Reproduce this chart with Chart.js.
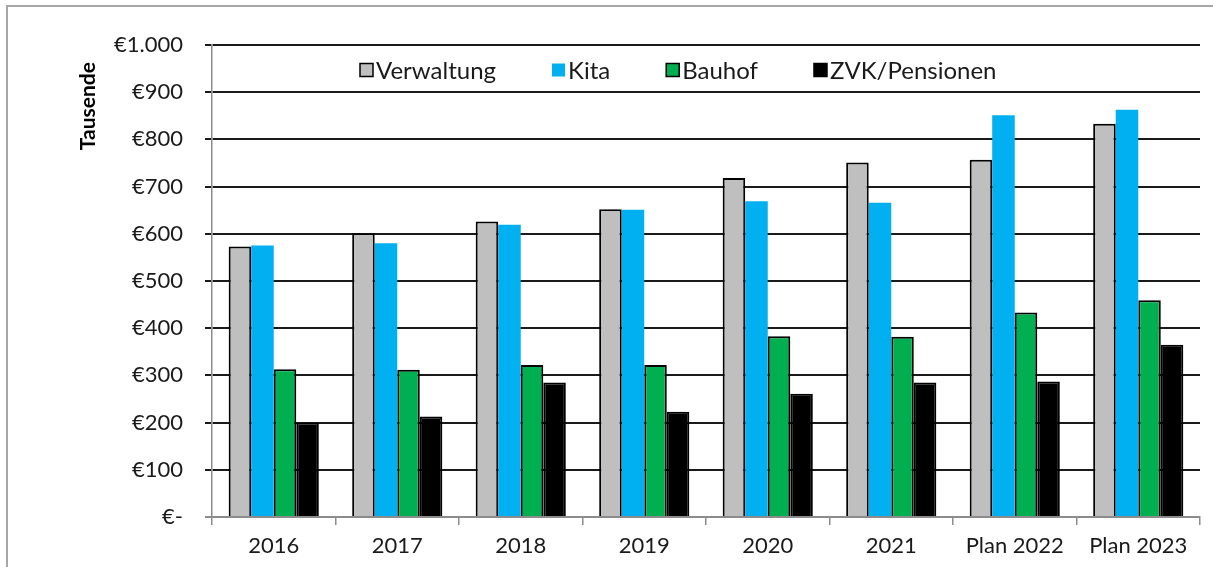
<!DOCTYPE html>
<html>
<head>
<meta charset="utf-8">
<script src="https://cdn.jsdelivr.net/npm/chart.js@4/dist/chart.umd.min.js"></script>
<style>
    body { margin: 0; background: #fff; }
    #frame { position: absolute; left: 6px; top: 5px; width: 1300px; height: 700px; border: 2px solid #a6a6a6; }
    #wrap { position: absolute; left: 0; top: 0; width: 1213px; height: 567px; }
</style>
</head>
<body>
<div id="frame"></div>
<div id="wrap"><canvas id="chart"></canvas></div>
<script>
const categories = ['2016', '2017', '2018', '2019', '2020', '2021', 'Plan 2022', 'Plan 2023'];
const verwaltung = [573, 601, 626, 652, 718, 751, 757, 833];
const kita = [575, 580, 619, 651, 669, 666, 851, 863];
const bauhof = [313, 312, 322, 322, 383, 382, 433, 459];
const zvk = [200, 213, 285, 223, 261, 285, 287, 365];
const yTickLabels = ['€-', '€100', '€200', '€300', '€400', '€500', '€600', '€700', '€800', '€900', '€1.000'];
const yTitle = 'Tausende';

const fontFamily = 'Lato, "Open Sans", sans-serif';

// Legende innerhalb der Zeichenfläche
const innerLegend = {
    id: 'innerLegend',
    afterDatasetsDraw(chart) {
        const ctx = chart.ctx;
        const area = chart.chartArea;
        let x = area.left + 148;
        const y = area.top + 25;
        const box = 13;
        ctx.save();
        ctx.font = '24px ' + fontFamily;
        ctx.textBaseline = 'middle';
        chart.data.datasets.forEach(ds => {
            ctx.fillStyle = ds.backgroundColor;
            ctx.fillRect(x, y - box / 2, box, box);
            if (ds.borderWidth > 0) {
                ctx.lineWidth = 1.5;
                ctx.strokeStyle = '#000';
                ctx.strokeRect(x, y - box / 2, box, box);
            }
            ctx.fillStyle = '#1a1a1a';
            ctx.fillText(ds.label, x + box + 3, y + 1);
            x += box + 3 + ctx.measureText(ds.label).width + 56;
        });
        ctx.restore();
    }
};

// Achsentitel oben links
const axisTitle = {
    id: 'axisTitle',
    afterDraw(chart) {
        const ctx = chart.ctx;
        const area = chart.chartArea;
        ctx.save();
        ctx.translate(88, area.top + 17);
        ctx.rotate(-Math.PI / 2);
        ctx.font = 'bold 21px ' + fontFamily;
        ctx.fillStyle = '#000';
        ctx.textAlign = 'right';
        ctx.textBaseline = 'middle';
        ctx.fillText(yTitle, 0, 0);
        ctx.restore();
    }
};

new Chart(document.getElementById('chart'), {
    type: 'bar',
    data: {
        labels: categories,
        datasets: [
            { label: 'Verwaltung', data: verwaltung, backgroundColor: '#bfbfbf', borderColor: '#000', borderWidth: 2 },
            { label: 'Kita', data: kita, backgroundColor: '#00b0f0', borderWidth: 0 },
            { label: 'Bauhof', data: bauhof, backgroundColor: '#00b050', borderColor: '#000', borderWidth: 2 },
            { label: 'ZVK/Pensionen', data: zvk, backgroundColor: '#000000', borderColor: '#000', borderWidth: 2 }
        ]
    },
    options: {
        responsive: true,
        maintainAspectRatio: false,
        animation: false,
        categoryPercentage: 0.73,
        barPercentage: 1.0,
        layout: { padding: { top: 45, right: 13, left: 0, bottom: 0 } },
        plugins: {
            legend: { display: false },
            tooltip: { enabled: false }
        },
        scales: {
            x: {
                grid: { offset: true, drawOnChartArea: false, drawTicks: true, tickLength: 8, color: '#8c8c8c', lineWidth: 1.5 },
                border: { color: '#8c8c8c', width: 1.5 },
                ticks: { color: '#1a1a1a', font: { family: fontFamily, size: 22 }, padding: 8, maxRotation: 0 },
                afterFit(scale) { scale.height = 50; }
            },
            y: {
                min: 0,
                max: 1000,
                ticks: {
                    stepSize: 100,
                    color: '#1a1a1a',
                    font: { family: fontFamily, size: 22 },
                    padding: 22,
                    callback: (value, index) => yTickLabels[index]
                },
                grid: {
                    tickLength: 7,
                    lineWidth: 2,
                    color: ctx => ctx.tick && ctx.tick.value === 0 ? '#8c8c8c' : '#1a1a1a'
                },
                border: { color: '#8c8c8c', width: 1.5 },
                afterFit(scale) { scale.width = 212; }
            }
        }
    },
    plugins: [innerLegend, axisTitle]
});
</script>
</body>
</html>
